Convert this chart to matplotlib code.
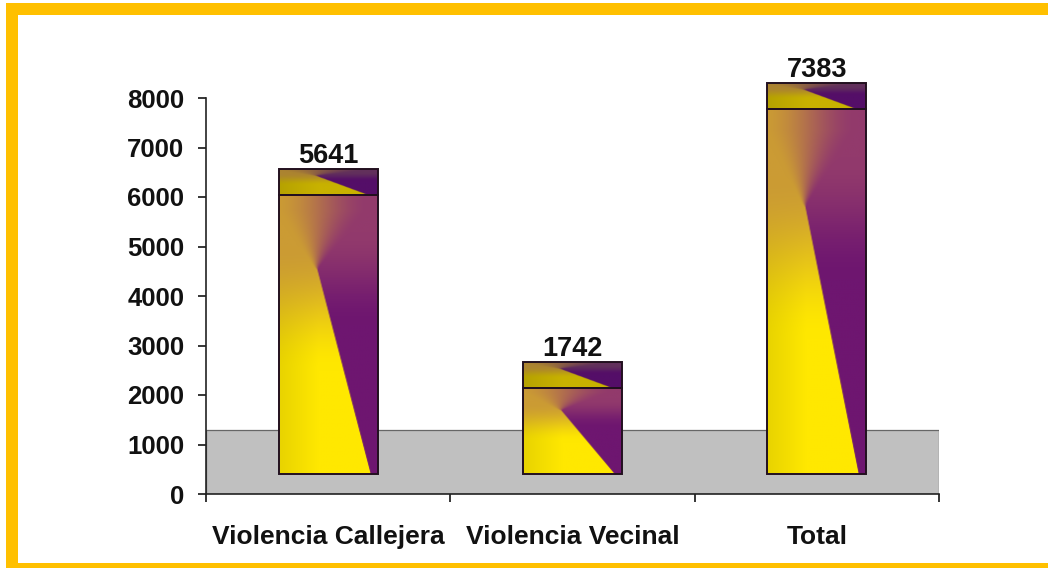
# plot.py - 3D looking gradient bars of violence counts, orange frame around it
import numpy as np
import matplotlib
matplotlib.use('Agg')
import matplotlib.pyplot as plt
from matplotlib.patches import Rectangle

categories = ['Violencia Callejera', 'Violencia Vecinal', 'Total']
values = [5641, 1742, 7383]
yticks = [0, 1000, 2000, 3000, 4000, 5000, 6000, 7000, 8000]

plt.rcParams['font.family'] = ['Liberation Sans', 'DejaVu Sans']
plt.rcParams['font.weight'] = 'bold'

W, H = 1048, 569
BASE = 400      # bars float over the gray floor
DEPTH = 520     # height of the fake top face
FLOOR = 1300
BARW = 0.405


def lerp(a, b, t):
    return a * (1 - t[..., None]) + b * t[..., None]


def fanGradient(yellow, purple, topleft, topright, apexu, apexv, botu, rows=300, cols=100):
    # sharp diagonal under the apex, soft fan above it
    v, u = np.meshgrid(np.linspace(1, 0, rows), np.linspace(0, 1, cols), indexing='ij')
    line = botu + (apexu - botu) * np.minimum(v, apexv) / apexv
    wide = 0.012 + np.minimum(4.5 * np.clip(v - apexv + 0.01, 0, None), 0.95)
    t = np.clip((u - line - 0.06 * np.clip(wide - 0.1, 0, None)) / wide + 0.5, 0, 1)
    t = t * t * (3 - 2 * t)
    shade = (0.91 + 0.09 * np.clip(u / 0.4, 0, 1))[..., None]
    base = np.ones(v.shape + (3,))
    s = np.clip((v - apexv * 0.5) / (apexv * 0.6), 0, 1)
    s = s * s * (3 - 2 * s)
    s2 = np.clip((v - apexv * 0.72) / (apexv * 0.45), 0, 1)
    s2 = s2 * s2 * (3 - 2 * s2)
    left = lerp(base * yellow * shade, base * topleft, s)
    right = lerp(base * purple, base * topright, s2)
    return lerp(left, right, t) / 255


fig = plt.figure(figsize=(W / 100, H / 100), dpi=100, facecolor='white')

# orange frame, open on the right side
frame = '#ffc000'
fig.patches.append(Rectangle((6 / W, 1 - 15 / H), (W - 6) / W, 12 / H, transform=fig.transFigure,
                             facecolor=frame, edgecolor='none'))
fig.patches.append(Rectangle((6 / W, 1 - 568 / H), 12 / W, 553 / H, transform=fig.transFigure,
                             facecolor=frame, edgecolor='none'))
fig.patches.append(Rectangle((6 / W, 1 - 568 / H), (W - 6) / W, 5 / H, transform=fig.transFigure,
                             facecolor=frame, edgecolor='none'))

ax = fig.add_axes([206 / W, 1 - 494 / H, 733 / W, 396 / H])
ax.patch.set_alpha(0)
ax.set_xlim(-0.5, 2.5)
ax.set_ylim(0, 8000)

# gray floor/back wall
ax.add_patch(Rectangle((-0.5, 0), 3, FLOOR, facecolor='#c0c0c0', edgecolor='#666666',
                       linewidth=0.9, zorder=1))

front = fanGradient(np.array([255, 232, 0]), np.array([110, 22, 112]),
                    np.array([203, 155, 52]), np.array([146, 58, 108]), 0.38, 0.74, 0.93)
cap = fanGradient(np.array([200, 178, 0]), np.array([84, 14, 104]),
                  np.array([172, 132, 48]), np.array([98, 48, 92]), 0.37, 0.75, 0.90, rows=60)
for i, val in enumerate(values):
    left, right = i - BARW / 2, i + BARW / 2
    top = BASE + val
    ax.imshow(front, extent=(left, right, BASE, top), aspect='auto', zorder=2,
              interpolation='bilinear')
    ax.imshow(cap, extent=(left, right, top, top + DEPTH), aspect='auto', zorder=2,
              interpolation='bilinear', clip_on=False)
ax.set_xlim(-0.5, 2.5)
ax.set_ylim(0, 8000)

xpos = np.arange(len(values))
ax.bar(xpos, values, width=BARW, bottom=BASE, fill=False, edgecolor='#22101f',
       linewidth=1.4, zorder=3)
ax.bar(xpos, [DEPTH] * len(values), width=BARW, bottom=[BASE + v for v in values], fill=False,
       edgecolor='#22101f', linewidth=1.4, zorder=3, clip_on=False)

for i, val in enumerate(values):
    ax.annotate(str(val), (i, BASE + val + DEPTH), xytext=(0, 0), textcoords='offset points',
                ha='center', va='bottom', fontsize=19.5, fontweight='bold', color='#111111',
                annotation_clip=False)

ax.spines['top'].set_visible(False)
ax.spines['right'].set_visible(False)
ax.spines['left'].set_zorder(4)
ax.spines['bottom'].set_zorder(4)
for side in ('left', 'bottom'):
    ax.spines[side].set_linewidth(1.2)
    ax.spines[side].set_color('#222222')

ax.set_yticks(yticks)
ax.tick_params(axis='y', length=6, width=1.1, pad=9.5, labelsize=18.5, labelcolor='#111111')
ax.set_xticks([-0.5, 0.5, 1.5, 2.5])
ax.set_xticklabels([])
ax.tick_params(axis='x', which='major', length=6, width=1.1)
ax.set_xticks(xpos, minor=True)
ax.set_xticklabels(categories, minor=True, fontsize=19, fontweight='bold', color='#111111')
ax.tick_params(axis='x', which='minor', length=0, pad=22.5)

fig.savefig('out.png', dpi=100)
